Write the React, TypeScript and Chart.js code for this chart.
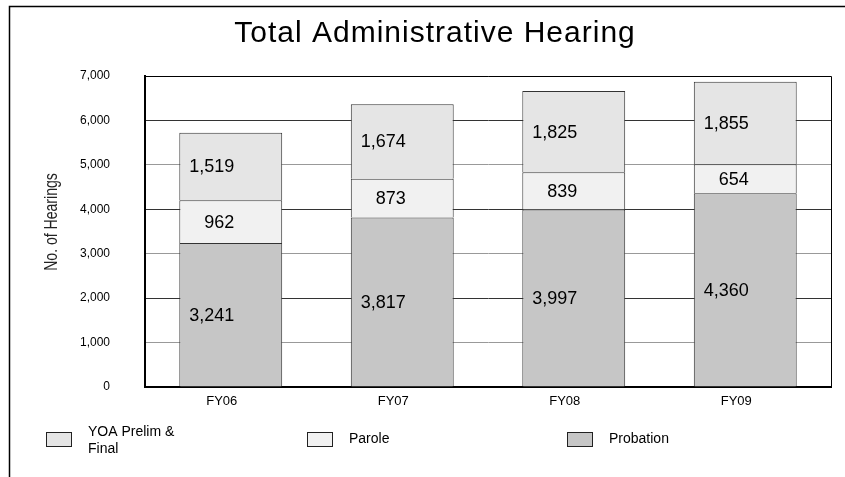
import React, { useEffect, useRef } from "react";
import { Chart, registerables } from "chart.js";

Chart.register(...registerables);

const categories = ["FY06", "FY07", "FY08", "FY09"];
const probation = [3241, 3817, 3997, 4360];
const parole = [962, 873, 839, 654];
const yoa = [1519, 1674, 1825, 1855];
const yMax = 7000;
const yStep = 1000;
const titleText = "Total Administrative Hearing";
const yTitle = "No. of Hearings";
const legendLabels = ["YOA Prelim &\nFinal", "Parole", "Probation"];

const FONT = "'Liberation Sans', Arial, sans-serif";

const customDraw = {
  id: "customDraw",
  afterDatasetsDraw(chart: any) {
    const ctx = chart.ctx;
    const area = chart.chartArea;
    ctx.save();
    // plot top & right border
    ctx.strokeStyle = "#000";
    ctx.lineWidth = 1;
    ctx.beginPath();
    ctx.moveTo(area.left, Math.round(area.top) + 0.5);
    ctx.lineTo(Math.round(area.right) + 0.5, Math.round(area.top) + 0.5);
    ctx.lineTo(Math.round(area.right) + 0.5, area.bottom);
    ctx.stroke();

    // data labels (right-aligned just past bar centre)
    ctx.fillStyle = "#000";
    ctx.font = `18px ${FONT}`;
    ctx.textAlign = "right";
    ctx.textBaseline = "middle";
    chart.data.datasets.forEach((ds: any, di: number) => {
      const meta = chart.getDatasetMeta(di);
      meta.data.forEach((el: any, i: number) => {
        const v = ds.data[i];
        const y = (el.y + el.base) / 2;
        ctx.fillText(v.toLocaleString("en-US"), el.x + 3.5, y + 1);
      });
    });
    ctx.restore();
  },
  afterDraw(chart: any) {
    const ctx = chart.ctx;
    ctx.save();
    // frame
    ctx.strokeStyle = "#000";
    ctx.lineWidth = 1.5;
    ctx.beginPath();
    ctx.moveTo(9.5, 477);
    ctx.lineTo(9.5, 6.5);
    ctx.lineTo(845, 6.5);
    ctx.stroke();

    // title
    ctx.save();
    ctx.fillStyle = "#000";
    ctx.font = `30px ${FONT}`;
    (ctx as any).letterSpacing = "1px";
    ctx.textAlign = "center";
    ctx.textBaseline = "alphabetic";
    ctx.fillText(titleText, 435, 42);
    ctx.restore();

    // y title (condensed)
    ctx.save();
    ctx.translate(52, 222);
    ctx.rotate(-Math.PI / 2);
    ctx.scale(0.78, 1);
    ctx.font = `18px ${FONT}`;
    ctx.textAlign = "center";
    ctx.textBaseline = "middle";
    ctx.fillStyle = "#222";
    ctx.fillText(yTitle, 0, 0);
    ctx.restore();

    // legend
    const order = [2, 1, 0];
    const boxX = [46, 307, 567];
    order.forEach((di, k) => {
      const ds = chart.data.datasets[di];
      const bx = boxX[k];
      ctx.fillStyle = ds.backgroundColor;
      ctx.fillRect(bx, 432, 25, 14);
      ctx.strokeStyle = "#222";
      ctx.lineWidth = 1;
      ctx.strokeRect(bx + 0.5, 432.5, 25, 14);
      ctx.fillStyle = "#000";
      ctx.font = `14px ${FONT}`;
      ctx.textAlign = "left";
      ctx.textBaseline = "middle";
      const lines = legendLabels[k].split("\n");
      if (lines.length === 1) {
        ctx.fillText(lines[0], bx + 42, 439);
      } else {
        ctx.fillText(lines[0], bx + 42, 432);
        ctx.fillText(lines[1], bx + 42, 449);
      }
    });
    ctx.restore();
  },
};

export default function App() {
  const ref = useRef<HTMLCanvasElement>(null);
  useEffect(() => {
    if (!ref.current) return;
    const chart = new Chart(ref.current, {
      type: "bar",
      data: {
        labels: categories,
        datasets: [
          {
            label: "Probation",
            data: probation,
            backgroundColor: "#c6c6c6",
            borderColor: "#333",
            borderWidth: 1,
          },
          {
            label: "Parole",
            data: parole,
            backgroundColor: "#f1f1f1",
            borderColor: "#333",
            borderWidth: 1,
          },
          {
            label: "YOA Prelim & Final",
            data: yoa,
            backgroundColor: "#e5e5e5",
            borderColor: "#333",
            borderWidth: 1,
          },
        ],
      },
      options: {
        responsive: false,
        animation: false,
        layout: { padding: { left: 0, right: 14, top: 76, bottom: 0 } },
        datasets: { bar: { categoryPercentage: 1, barPercentage: 0.6 } },
        plugins: {
          legend: { display: false },
          title: { display: false },
          tooltip: { enabled: false },
        },
        scales: {
          x: {
            stacked: true,
            grid: { display: false, drawTicks: false },
            border: { display: true, color: "#000", width: 2 },
            ticks: {
              color: "#000",
              font: { family: FONT, size: 13 },
              padding: 7,
              labelOffset: -9,
            },
            afterFit(scale: any) {
              scale.height = 90;
            },
          },
          y: {
            stacked: true,
            min: 0,
            max: yMax,
            grid: {
              drawTicks: false,
              color: (c: any) =>
                c.tick && c.tick.value % 2000 === 0 ? "#333" : "#999",
              lineWidth: 1,
            },
            border: { display: true, color: "#000", width: 2 },
            ticks: {
              stepSize: yStep,
              color: "#000",
              font: { family: FONT, size: 12 },
              padding: 35,
              callback: (v: any) => Number(v).toLocaleString("en-US"),
            },
            afterFit(scale: any) {
              scale.width = 145;
            },
          },
        },
      },
      plugins: [customDraw],
    });
    return () => chart.destroy();
  }, []);
  return (
    <canvas
      ref={ref}
      width={845}
      height={477}
      style={{ position: "absolute", left: 0, top: 0, display: "block" }}
    />
  );
}
